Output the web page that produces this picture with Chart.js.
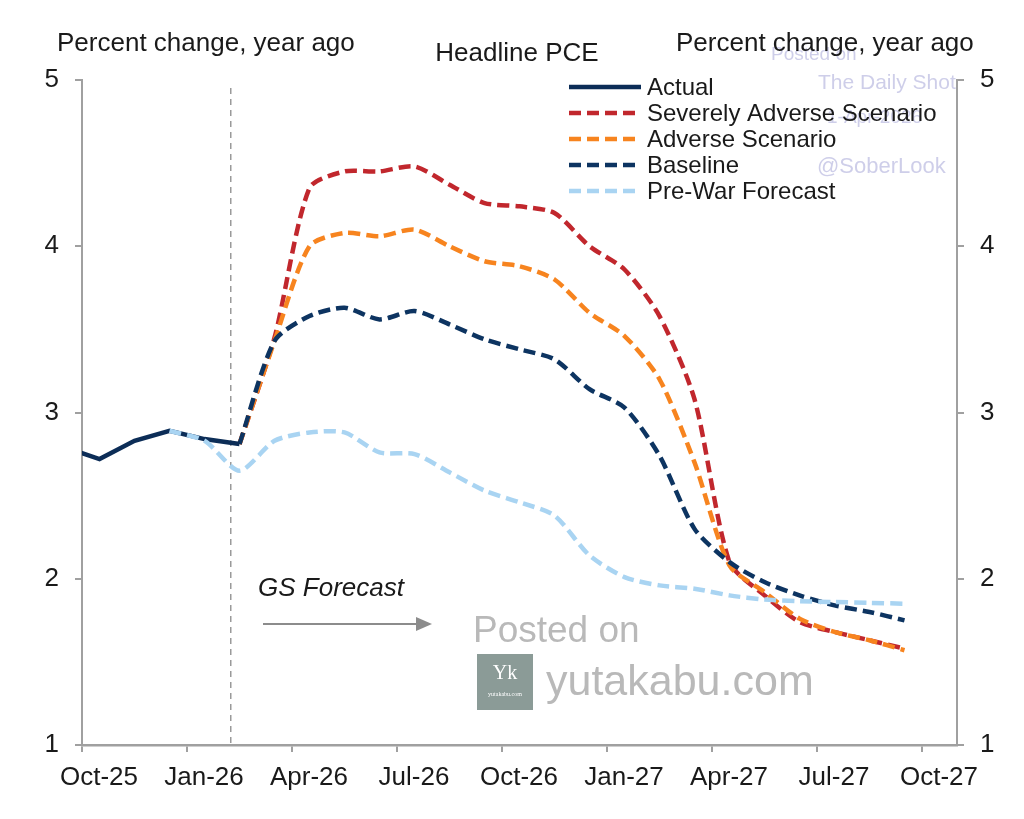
<!DOCTYPE html>
<html>
<head>
<meta charset="utf-8">
<script src="https://cdn.jsdelivr.net/npm/chart.js@4.4.1/dist/chart.umd.min.js"></script>
<style>
  body { margin: 0; background: #fff; }
  #wrap { width: 1024px; height: 819px; position: relative; }
</style>
</head>
<body>
<div id="wrap"><canvas id="pceChart"></canvas></div>
<script>
// monthly points, Sep-25 .. Sep-27 (Sep-25 sits left of the axis and gets clipped)
var months = ['Sep-25','Oct-25','Nov-25','Dec-25','Jan-26','Feb-26','Mar-26','Apr-26','May-26','Jun-26',
              'Jul-26','Aug-26','Sep-26','Oct-26','Nov-26','Dec-26','Jan-27','Feb-27','Mar-27','Apr-27',
              'May-27','Jun-27','Jul-27','Aug-27','Sep-27'];

var actual   = [2.79, 2.72, 2.83, 2.89, 2.84, 2.81, null, null, null, null, null, null, null,
                null, null, null, null, null, null, null, null, null, null, null, null];
var severe   = [null, null, null, null, null, 2.81, 3.45, 4.35, 4.45, 4.45, 4.48, 4.37, 4.26,
                4.24, 4.20, 4.00, 3.86, 3.58, 3.08, 2.10, 1.90, 1.74, 1.68, 1.63, 1.58];
var adverse  = [null, null, null, null, null, 2.81, 3.43, 4.00, 4.08, 4.06, 4.10, 4.00, 3.91,
                3.88, 3.80, 3.60, 3.46, 3.20, 2.70, 2.08, 1.92, 1.76, 1.68, 1.63, 1.57];
var baseline = [null, null, null, null, null, 2.81, 3.43, 3.58, 3.63, 3.56, 3.61, 3.53, 3.44,
                3.38, 3.32, 3.14, 3.03, 2.74, 2.30, 2.10, 1.98, 1.90, 1.84, 1.80, 1.75];
var preWar   = [null, null, null, 2.89, 2.83, 2.65, 2.83, 2.88, 2.88, 2.76, 2.75, 2.64, 2.53,
                2.46, 2.38, 2.14, 2.01, 1.96, 1.94, 1.90, 1.875, 1.865, 1.86, 1.855, 1.85];

var xTickLabels = ['Oct-25','Jan-26','Apr-26','Jul-26','Oct-26','Jan-27','Apr-27','Jul-27','Oct-27'];
var forecastStart = 4.25;   // months after Oct-25

var FONT = '"Liberation Sans", Arial, sans-serif';
var TEXT = '#1a1a1a';
var AXIS = '#a0a0a0';

function toPoints(values) {
    var pts = [];
    for (var i = 0; i < values.length; i++) {
        pts.push({ x: i - 0.5, y: values[i] });
    }
    return pts;
}

function dashed(label, values, color, order) {
    return {
        label: label,
        data: toPoints(values),
        borderColor: color,
        backgroundColor: color,
        borderWidth: 4.5,
        borderDash: [12, 6],
        tension: 0.25,
        pointRadius: 0,
        order: order
    };
}

var overlayPlugin = {
    id: 'overlay',
    beforeDatasetsDraw: function(chart) {
        var ctx = chart.ctx;
        var x = chart.scales.x.getPixelForValue(forecastStart);
        ctx.save();
        ctx.strokeStyle = '#9a9a9a';
        ctx.lineWidth = 1.5;
        ctx.setLineDash([6, 5]);
        ctx.beginPath();
        ctx.moveTo(x, 88);
        ctx.lineTo(x, chart.chartArea.bottom);
        ctx.stroke();
        ctx.restore();
    },
    afterDraw: function(chart) {
        var ctx = chart.ctx;
        ctx.save();

        // Daily Shot watermark
        ctx.fillStyle = 'rgba(190,190,225,0.75)';
        ctx.textBaseline = 'middle';
        ctx.textAlign = 'left';
        ctx.font = '19px ' + FONT;
        ctx.fillText('Posted on', 771, 55);
        ctx.font = '21px ' + FONT;
        ctx.fillText('The Daily Shot', 818, 83);
        ctx.font = '19px ' + FONT;
        ctx.fillText('1-Apr-2026', 827, 118);
        ctx.font = '22px ' + FONT;
        ctx.fillText('@SoberLook', 817, 167);

        // titles
        ctx.fillStyle = TEXT;
        ctx.font = '26px ' + FONT;
        ctx.textAlign = 'left';
        ctx.fillText('Percent change, year ago', 57, 44);
        ctx.fillText('Percent change, year ago', 676, 44);
        ctx.textAlign = 'center';
        ctx.fillText('Headline PCE', 517, 54);

        // legend
        ctx.textAlign = 'left';
        ctx.font = '24px ' + FONT;
        var ds = chart.data.datasets;
        for (var i = 0; i < ds.length; i++) {
            var y = 87 + i * 26;
            ctx.save();
            ctx.strokeStyle = ds[i].borderColor;
            ctx.lineWidth = 4.5;
            ctx.setLineDash(ds[i].borderDash || []);
            ctx.beginPath();
            ctx.moveTo(569, y);
            ctx.lineTo(641, y);
            ctx.stroke();
            ctx.restore();
            ctx.fillStyle = TEXT;
            ctx.fillText(ds[i].label, 647, y + 1);
        }

        // GS Forecast label + arrow
        ctx.font = 'italic 26px ' + FONT;
        ctx.fillStyle = TEXT;
        ctx.fillText('GS Forecast', 258, 589);
        ctx.strokeStyle = '#8c8c8c';
        ctx.fillStyle = '#8c8c8c';
        ctx.lineWidth = 2;
        ctx.beginPath();
        ctx.moveTo(263, 624);
        ctx.lineTo(418, 624);
        ctx.stroke();
        ctx.beginPath();
        ctx.moveTo(432, 624);
        ctx.lineTo(416, 617);
        ctx.lineTo(416, 631);
        ctx.closePath();
        ctx.fill();

        // yutakabu watermark
        ctx.fillStyle = '#b9b9b9';
        ctx.font = '37px ' + FONT;
        ctx.fillText('Posted on', 473, 632);
        ctx.font = '43px ' + FONT;
        ctx.fillText('yutakabu.com', 546, 683);
        ctx.fillStyle = '#8b9b97';
        ctx.fillRect(477, 654, 56, 56);
        ctx.fillStyle = '#ffffff';
        ctx.textAlign = 'center';
        ctx.font = '20px "Liberation Serif", serif';
        ctx.fillText('Yk', 505, 674);
        ctx.font = '6px "Liberation Serif", serif';
        ctx.fillText('yutakabu.com', 505, 694);

        ctx.restore();
    }
};

var ctx = document.getElementById('pceChart');
new Chart(ctx, {
    type: 'line',
    data: {
        datasets: [
            {
                label: 'Actual',
                data: toPoints(actual),
                borderColor: '#0c2d57',
                backgroundColor: '#0c2d57',
                borderWidth: 4.5,
                tension: 0,
                pointRadius: 0,
                order: 1
            },
            dashed('Severely Adverse Scenario', severe, '#c1272d', 4),
            dashed('Adverse Scenario', adverse, '#f7841f', 3),
            dashed('Baseline', baseline, '#0d3461', 2),
            dashed('Pre-War Forecast', preWar, '#a9d4f2', 0)
        ]
    },
    options: {
        responsive: true,
        maintainAspectRatio: false,
        animation: false,
        layout: { padding: { top: 80, left: 0, right: 0, bottom: 0 } },
        plugins: {
            legend: { display: false },
            tooltip: { enabled: false }
        },
        scales: {
            x: {
                type: 'linear',
                min: 0,
                max: 25,
                afterFit: function(scale) { scale.height = 74; },
                grid: { drawOnChartArea: false, drawTicks: true, tickLength: 7, color: AXIS, lineWidth: 2 },
                border: { display: true, color: AXIS, width: 2.5 },
                ticks: {
                    stepSize: 3,
                    includeBounds: false,
                    autoSkip: false,
                    maxRotation: 0,
                    labelOffset: 17,
                    padding: 10,
                    color: TEXT,
                    font: { family: FONT, size: 26 },
                    callback: function(value) { return xTickLabels[value / 3]; }
                }
            },
            y: {
                position: 'left',
                min: 1,
                max: 5,
                afterFit: function(scale) { scale.width = 82; },
                grid: { drawOnChartArea: false, drawTicks: true, tickLength: 7, color: AXIS, lineWidth: 2 },
                border: { display: true, color: AXIS, width: 2 },
                ticks: { stepSize: 1, padding: 16, color: TEXT, font: { family: FONT, size: 26 } }
            },
            y2: {
                position: 'right',
                min: 1,
                max: 5,
                afterFit: function(scale) { scale.width = 67; },
                grid: { drawOnChartArea: false, drawTicks: true, tickLength: 7, color: AXIS, lineWidth: 2 },
                border: { display: true, color: AXIS, width: 2 },
                ticks: { stepSize: 1, padding: 16, color: TEXT, font: { family: FONT, size: 26 } }
            }
        }
    },
    plugins: [overlayPlugin]
});
</script>
</body>
</html>
